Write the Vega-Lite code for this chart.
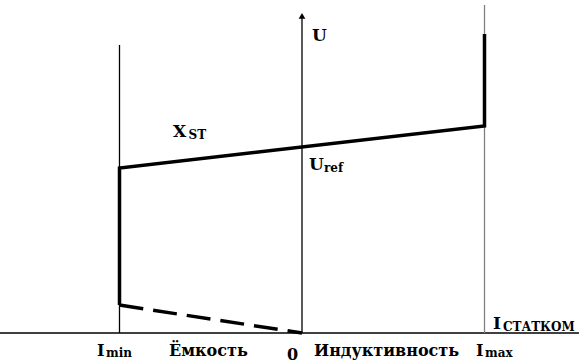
{
  "$schema": "https://vega.github.io/schema/vega-lite/v6.json",
  "width": 579,
  "height": 360,
  "autosize": {"type": "none"},
  "padding": 0,
  "background": "white",
  "config": {"view": {"stroke": null}},
  "datasets": {
    "rules": [
      {"name": "ось I", "x": -1.6548, "x2": 1.5178, "y": 0, "y2": 0, "kind": "axis"},
      {"name": "ось U", "x": 0, "x2": 0, "y": 0, "y2": 1.70, "kind": "axis"},
      {"name": "Imin", "x": -1, "x2": -1, "y": 0, "y2": 1.548, "kind": "axis"},
      {"name": "Imax", "x": 1, "x2": 1, "y": 0, "y2": 1.763, "kind": "grey"}
    ],
    "vi": [
      {"i": -1, "u": 0.15, "order": 1},
      {"i": -1, "u": 0.887, "order": 2},
      {"i": 1, "u": 1.113, "order": 3},
      {"i": 1, "u": 1.608, "order": 4}
    ],
    "dash": [
      {"i": -1, "u": 0.15, "order": 1},
      {"i": 0, "u": 0, "order": 2}
    ],
    "labels": [
      {"x": 0.055, "y": 1.570, "text": "U", "kind": "main"},
      {"x": -0.707, "y": 1.054, "text": "X", "kind": "main"},
      {"x": -0.622, "y": 1.043, "text": "ST", "kind": "sub"},
      {"x": 0.038, "y": 0.876, "text": "U", "kind": "main"},
      {"x": 0.1205, "y": 0.866, "text": "ref", "kind": "sub"},
      {"x": -1.123, "y": -0.124, "text": "I", "kind": "bottom"},
      {"x": -1.074, "y": -0.129, "text": "min", "kind": "sub"},
      {"x": -0.729, "y": -0.124, "text": "Ёмкость", "kind": "bottom"},
      {"x": -0.082, "y": -0.145, "text": "0", "kind": "bottom"},
      {"x": 0.066, "y": -0.124, "text": "Индуктивность", "kind": "bottom"},
      {"x": 0.953, "y": -0.124, "text": "I", "kind": "bottom"},
      {"x": 1.003, "y": -0.129, "text": "max", "kind": "sub"},
      {"x": 1.047, "y": 0.0215, "text": "I", "kind": "main"},
      {"x": 1.101, "y": 0.011, "text": "СТАТКОМ", "kind": "sub"}
    ]
  },
  "layer": [
    {
      "data": {"name": "rules"},
      "transform": [{"filter": "datum.kind == 'axis'"}],
      "mark": {"type": "rule", "color": "black", "strokeWidth": 1.3, "clip": false},
      "encoding": {
        "x": {"field": "x", "type": "quantitative", "scale": {"domain": [-1.6548, 1.5178], "nice": false, "zero": false}, "axis": null},
        "x2": {"field": "x2"},
        "y": {"field": "y", "type": "quantitative", "scale": {"domain": [-0.1452, 1.7903], "nice": false, "zero": false}, "axis": null},
        "y2": {"field": "y2"}
      }
    },
    {
      "data": {"name": "rules"},
      "transform": [{"filter": "datum.kind == 'grey'"}],
      "mark": {"type": "rule", "color": "#808080", "strokeWidth": 1.3},
      "encoding": {
        "x": {"field": "x", "type": "quantitative"},
        "x2": {"field": "x2"},
        "y": {"field": "y", "type": "quantitative"},
        "y2": {"field": "y2"}
      }
    },
    {
      "data": {"values": [{"x": 0, "y": 1.705}]},
      "mark": {"type": "point", "shape": "triangle-up", "filled": true, "color": "black", "size": 45, "opacity": 1},
      "encoding": {
        "x": {"field": "x", "type": "quantitative"},
        "y": {"field": "y", "type": "quantitative"}
      }
    },
    {
      "data": {"name": "vi"},
      "mark": {"type": "line", "color": "black", "strokeWidth": 3.5, "strokeJoin": "miter", "strokeCap": "butt"},
      "encoding": {
        "x": {"field": "i", "type": "quantitative"},
        "y": {"field": "u", "type": "quantitative"},
        "order": {"field": "order"}
      }
    },
    {
      "data": {"name": "dash"},
      "mark": {"type": "line", "color": "black", "strokeWidth": 3.5, "strokeDash": [24, 10], "strokeCap": "butt"},
      "encoding": {
        "x": {"field": "i", "type": "quantitative"},
        "y": {"field": "u", "type": "quantitative"},
        "order": {"field": "order"}
      }
    },
    {
      "data": {"name": "labels"},
      "transform": [{"filter": "datum.kind == 'main'"}],
      "mark": {"type": "text", "font": "DejaVu Serif", "fontWeight": "bold", "fontSize": 17, "align": "left", "baseline": "alphabetic", "color": "black"},
      "encoding": {
        "x": {"field": "x", "type": "quantitative"},
        "y": {"field": "y", "type": "quantitative"},
        "text": {"field": "text"}
      }
    },
    {
      "data": {"name": "labels"},
      "transform": [{"filter": "datum.kind == 'bottom'"}],
      "mark": {"type": "text", "font": "DejaVu Serif", "fontWeight": "bold", "fontSize": 16, "align": "left", "baseline": "alphabetic", "color": "black"},
      "encoding": {
        "x": {"field": "x", "type": "quantitative"},
        "y": {"field": "y", "type": "quantitative"},
        "text": {"field": "text"}
      }
    },
    {
      "data": {"name": "labels"},
      "transform": [{"filter": "datum.kind == 'sub'"}],
      "mark": {"type": "text", "font": "DejaVu Serif", "fontWeight": "bold", "fontSize": 12, "align": "left", "baseline": "alphabetic", "color": "black"},
      "encoding": {
        "x": {"field": "x", "type": "quantitative"},
        "y": {"field": "y", "type": "quantitative"},
        "text": {"field": "text"}
      }
    }
  ]
}
